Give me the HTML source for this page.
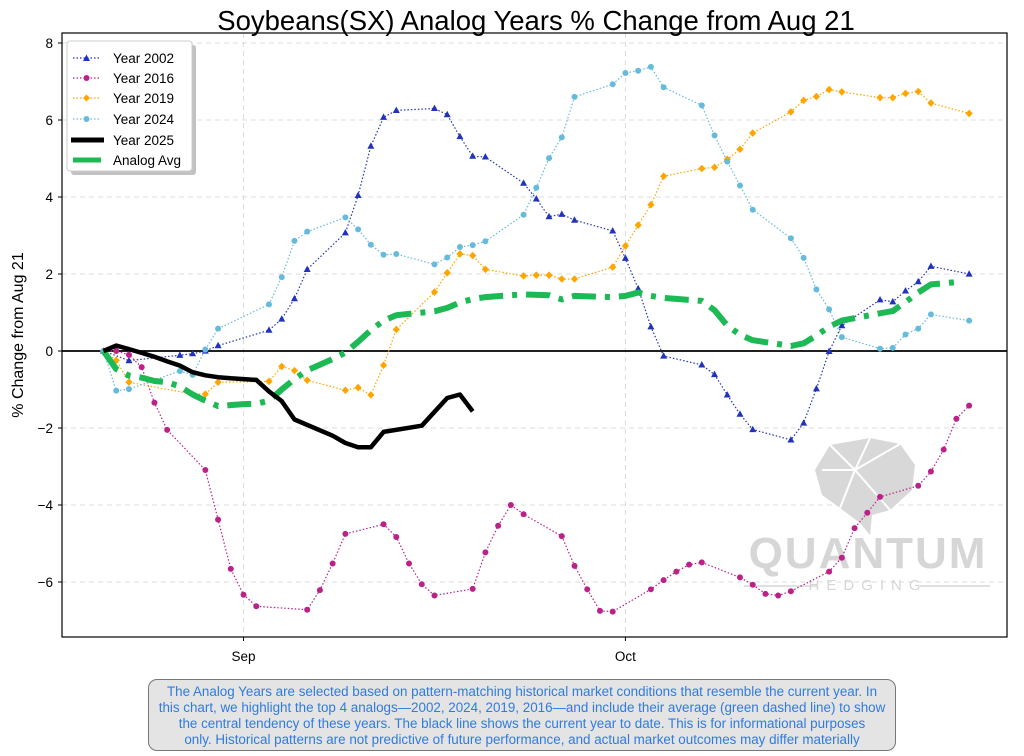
<!DOCTYPE html>
<html><head><meta charset="utf-8">
<style>
html,body{margin:0;padding:0;background:#fff;}
body{width:1024px;height:756px;overflow:hidden;position:relative;font-family:"Liberation Sans",sans-serif;}
#note{position:absolute;left:148px;top:679px;width:748px;height:72px;box-sizing:border-box;border:1.5px solid #777;border-radius:9px;background:#e4e4e4;color:#2f7be0;font-size:13.4px;line-height:16px;text-align:center;padding:4px 0 0 0;}
#note span{display:block;white-space:nowrap;}
</style></head>
<body>
<svg id="chart" width="1024" height="756" viewBox="0 0 1024 756" style="position:absolute;left:0;top:0">
<text x="536" y="30" text-anchor="middle" font-size="27.5" font-family="Liberation Sans, sans-serif" fill="#000">Soybeans(SX) Analog Years % Change from Aug 21</text>
<g id="grid"></g>
<g id="watermark" fill="#d6d6d6">
 <path d="M830 445 L870 438 L900 444 L915 465 L912 490 L890 510 L872 515 L870 535 L860 523 L840 508 L822 495 L815 470 Z" fill="#d8d8d8"/>
 <path d="M830 445 L855 470 L900 444 M855 470 L840 508 M855 470 L890 510 M870 438 L855 470 M822 470 L855 470" stroke="#fff" stroke-width="2" fill="none"/>
 <text x="868" y="568" text-anchor="middle" font-size="44" font-weight="bold" fill="#d6d6d6" font-family="Liberation Sans, sans-serif" letter-spacing="2">QUANTUM</text>
 <text x="868" y="590" text-anchor="middle" font-size="15" fill="#d6d6d6" font-family="Liberation Sans, sans-serif" letter-spacing="7">HEDGING</text>
 <line x1="744" y1="586" x2="818" y2="586" stroke="#d6d6d6" stroke-width="1.5"/>
 <line x1="920" y1="586" x2="990" y2="586" stroke="#d6d6d6" stroke-width="1.5"/>
</g>
<g id="series"></g>
<rect x="62" y="33" width="945" height="604" fill="none" stroke="#000" stroke-width="1.2"/>
<g id="axes"></g>
<text transform="translate(23,335) rotate(-90)" text-anchor="middle" font-size="16" font-family="Liberation Sans, sans-serif">% Change from Aug 21</text>
<g font-family="Liberation Sans, sans-serif">
 <rect x="71" y="45" width="125" height="130" rx="3" fill="#999" opacity="0.6"/>
 <rect x="67" y="41" width="125" height="130" rx="3" fill="#fff" stroke="#ccc"/>
 <g><line x1="73" y1="58" x2="100" y2="58" stroke="#2233bb" stroke-dasharray="1.5 2" stroke-width="1.2"/><path d="M86.5 54.5 L90 61 L83 61Z" fill="#2233bb"/><text x="113" y="63" font-size="13.5">Year 2002</text></g>
 <g><line x1="73" y1="78" x2="100" y2="78" stroke="#bb2288" stroke-dasharray="1.5 2" stroke-width="1.2"/><circle cx="86.5" cy="78" r="3" fill="#bb2288"/><text x="113" y="83" font-size="13.5">Year 2016</text></g>
 <g><line x1="73" y1="98" x2="100" y2="98" stroke="#ffa500" stroke-dasharray="1.5 2" stroke-width="1.2"/><path d="M86.5 94.5 L90 98 L86.5 101.5 L83 98Z" fill="#ffa500"/><text x="113" y="103" font-size="13.5">Year 2019</text></g>
 <g><line x1="73" y1="119" x2="100" y2="119" stroke="#66bbdd" stroke-dasharray="1.5 2" stroke-width="1.2"/><circle cx="86.5" cy="119" r="3" fill="#66bbdd"/><text x="113" y="124" font-size="13.5">Year 2024</text></g>
 <g><line x1="71" y1="140" x2="104" y2="140" stroke="#000" stroke-width="5"/><text x="113" y="145" font-size="13.5">Year 2025</text></g>
 <g><line x1="73" y1="160" x2="101" y2="160" stroke="#1db954" stroke-width="5"/><text x="113" y="165" font-size="13.5">Analog Avg</text></g>
</g>
</svg>
<div id="note"><span>The Analog Years are selected based on pattern-matching historical market conditions that resemble the current year. In</span><span>this chart, we highlight the top 4 analogs—2002, 2024, 2019, 2016—and include their average (green dashed line) to show</span><span>the central tendency of these years. The black line shows the current year to date. This is for informational purposes</span><span>only. Historical patterns are not predictive of future performance, and actual market outcomes may differ materially</span></div>
<script>
const yTicks=[-6,-4,-2,0,2,4,6,8];
const xTickLabels=["Sep","Oct"];
const xTickDays=[11,41];
const days2002=[0,2,6,7,8,9,13,14,15,16,19,20,21,22,23,26,27,28,29,30,33,34,35,36,37,40,41,42,43,44,47,48,49,50,51,54,55,56,57,58,61,62,63,64,65,68];
const vals2002=[0,-0.25,-0.11,-0.07,0,0.14,0.54,0.83,1.36,2.12,3.07,4.04,5.32,6.07,6.25,6.30,6.14,5.57,5.06,5.04,4.36,3.95,3.49,3.55,3.40,3.12,2.41,1.62,0.63,-0.13,-0.36,-0.61,-1.14,-1.64,-2.04,-2.31,-1.87,-0.98,-0.01,0.66,1.33,1.28,1.56,1.80,2.20,2.00];
const days2016=[0,1,2,3,4,5,8,9,10,11,12,16,17,18,19,22,23,24,25,26,29,30,31,32,33,36,37,38,39,40,43,44,45,46,47,50,51,52,53,54,57,58,59,60,61,64,65,66,67,68];
const vals2016=[0,0,-0.10,-0.42,-1.34,-2.05,-3.09,-4.38,-5.66,-6.33,-6.63,-6.72,-6.21,-5.52,-4.75,-4.50,-4.83,-5.52,-6.06,-6.35,-6.18,-5.23,-4.54,-4.00,-4.24,-4.81,-5.58,-6.19,-6.75,-6.77,-6.19,-5.95,-5.73,-5.55,-5.49,-5.88,-6.07,-6.31,-6.35,-6.24,-5.73,-5.37,-4.60,-4.20,-3.79,-3.50,-3.13,-2.56,-1.76,-1.42];
const days2019=[0,1,2,7,8,9,13,14,15,16,19,20,21,22,23,26,27,28,29,30,33,34,35,36,37,40,41,42,43,44,47,48,49,50,51,54,55,56,57,58,61,62,63,64,65,68];
const vals2019=[0,-0.24,-0.81,-1.12,-1.12,-0.81,-0.79,-0.40,-0.51,-0.76,-1.02,-0.95,-1.14,-0.37,0.56,1.53,2.03,2.52,2.48,2.12,1.95,1.97,1.97,1.87,1.87,2.18,2.73,3.27,3.80,4.54,4.74,4.77,4.98,5.24,5.66,6.21,6.51,6.61,6.79,6.73,6.58,6.58,6.69,6.74,6.44,6.17];
const days2024=[0,1,2,6,7,8,9,13,14,15,16,19,20,21,22,23,26,27,28,29,30,33,34,35,36,37,40,41,42,43,44,47,48,49,50,51,54,55,56,57,58,61,62,63,64,65,68];
const vals2024=[0,-1.03,-0.99,-0.52,-0.62,0.04,0.58,1.21,1.92,2.86,3.10,3.47,3.16,2.76,2.50,2.52,2.25,2.43,2.70,2.75,2.85,3.54,4.24,5.01,5.55,6.60,6.93,7.22,7.28,7.38,6.85,6.38,5.60,4.92,4.30,3.67,2.93,2.42,1.60,1.08,0.36,0.06,0.08,0.43,0.58,0.95,0.79];
const days2025=[0,1,2,3,4,5,6,7,8,9,10,11,12,13,14,15,18,19,20,21,22,25,27,28,29];
const vals2025=[0,0.14,0.05,-0.05,-0.15,-0.27,-0.38,-0.55,-0.63,-0.68,-0.71,-0.73,-0.75,-1.05,-1.30,-1.78,-2.20,-2.39,-2.50,-2.50,-2.10,-1.94,-1.22,-1.13,-1.57];
const daysAvg=[0,1,2,3,4,5,6,7,8,9,11,12,13,14,15,16,18,19,20,21,22,23,26,27,28,29,30,32,33,35,36,37,40,41,42,43,44,47,48,49,50,51,54,55,56,57,58,61,62,63,64,65,67];
const valsAvg=[0,-0.47,-0.64,-0.69,-0.78,-0.81,-0.92,-1.13,-1.29,-1.43,-1.38,-1.37,-1.29,-1.0,-0.73,-0.50,-0.21,-0.04,0.24,0.54,0.79,0.93,1.03,1.12,1.26,1.35,1.40,1.45,1.47,1.45,1.34,1.43,1.40,1.43,1.52,1.43,1.38,1.30,1.06,0.66,0.42,0.28,0.13,0.20,0.40,0.63,0.79,0.98,1.04,1.27,1.52,1.73,1.79];

const NS="http://www.w3.org/2000/svg";
const X0=103.5, PXD=12.73, Y0=351, PXU=38.5;
function xs(d){return X0+d*PXD;}
function ys(v){return Y0-v*PXU;}
function mk(tag,attrs,parent){const e=document.createElementNS(NS,tag);for(const k in attrs)e.setAttribute(k,attrs[k]);parent.appendChild(e);return e;}
const grid=document.getElementById('grid'), axes=document.getElementById('axes'), ser=document.getElementById('series');
yTicks.forEach(v=>{
 const g=mk('line',{x1:62,x2:1007,y1:ys(v),y2:ys(v),stroke:'#dcdcdc','stroke-dasharray':'5 4','stroke-width':1},grid);
 
 
 const t=mk('line',{x1:58,x2:62,y1:ys(v),y2:ys(v),stroke:'#000'},axes);
 
 
 const l=mk('text',{x:53,y:ys(v)+5,'text-anchor':'end','font-size':13.5,'font-family':'Liberation Sans, sans-serif'},axes);
 
 
 l.textContent=v<0?'\u2212'+Math.abs(v):String(v);
});
xTickDays.forEach((d,i)=>{
 const g=mk('line',{x1:xs(d),x2:xs(d),y1:33,y2:637,stroke:'#dcdcdc','stroke-dasharray':'5 4','stroke-width':1},grid);
 
 
 const t=mk('line',{x1:xs(d),x2:xs(d),y1:637,y2:641,stroke:'#000'},axes);
 
 
 const l=mk('text',{x:xs(d),y:661,'text-anchor':'middle','font-size':13.5,'font-family':'Liberation Sans, sans-serif'},axes);
 
 
 l.textContent=xTickLabels[i];
});
const zl=mk('line',{x1:62,x2:1007,y1:ys(0),y2:ys(0),stroke:'#000','stroke-width':1.8},ser);


function pts(ds,vs){return ds.map((d,i)=>xs(d).toFixed(1)+','+ys(vs[i]).toFixed(1)).join(' ');}
function drawSeries(name,ds,vs,color,marker){
 const g=mk('g',{},ser);
 
 
 mk('polyline',{points:pts(ds,vs),fill:'none',stroke:color,'stroke-width':1.2,'stroke-dasharray':'1.5 2'},g);
 ds.forEach((d,i)=>{
  const x=xs(d),y=ys(vs[i]);let m;
  if(marker==='tri') m=mk('path',{d:`M${x} ${y-3.8}L${x+3.5} ${y+2.6}L${x-3.5} ${y+2.6}Z`,fill:color},g);
  else if(marker==='dia') m=mk('path',{d:`M${x} ${y-3.8}L${x+3.6} ${y}L${x} ${y+3.8}L${x-3.6} ${y}Z`,fill:color},g);
  else m=mk('circle',{cx:x,cy:y,r:3,fill:color},g);
  
  
 });
}
drawSeries('series-2002',days2002,vals2002,'#2233bb','tri');
drawSeries('series-2016',days2016,vals2016,'#bb2288','dot');
drawSeries('series-2019',days2019,vals2019,'#ffa500','dia');
drawSeries('series-2024',days2024,vals2024,'#66bbdd','dot');
const a=mk('polyline',{points:pts(daysAvg,valsAvg),fill:'none',stroke:'#1db954','stroke-width':6,'stroke-dasharray':'24 9 5 9','stroke-linejoin':'round'},ser);


const b=mk('polyline',{points:pts(days2025,vals2025),fill:'none',stroke:'#000','stroke-width':4.5,'stroke-linejoin':'round'},ser);


</script>
</body></html>
